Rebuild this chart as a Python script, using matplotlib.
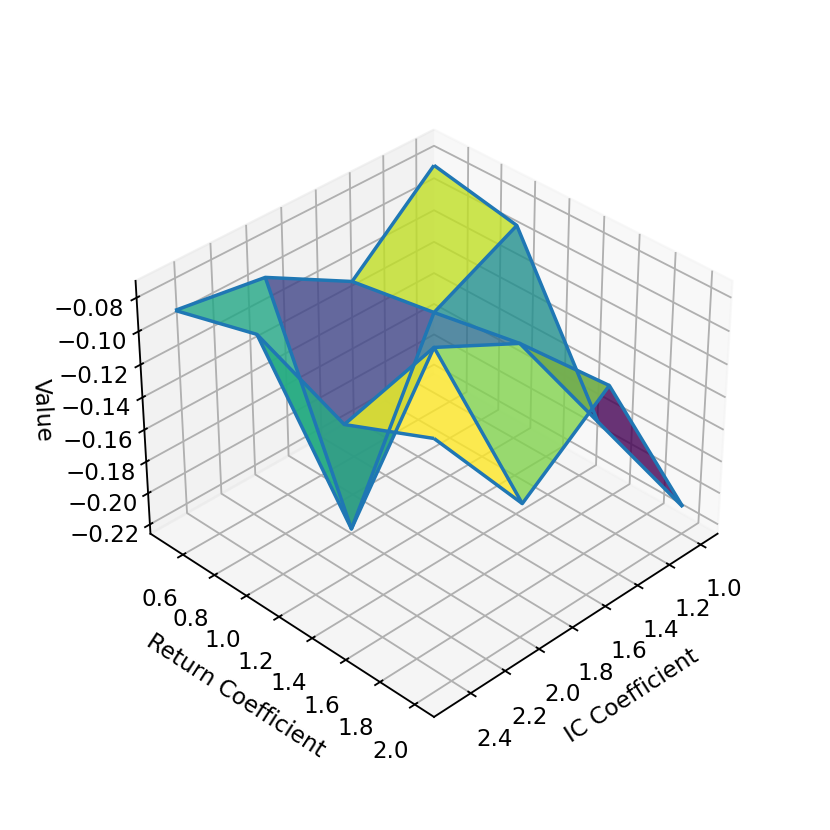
import numpy as np
import matplotlib
matplotlib.use("Agg")
import matplotlib.pyplot as plt

# grid of coefficients and the value read at each node
ic_coef = [1.0, 1.5, 2.0, 2.5]
ret_coef = [0.5, 1.0, 1.5, 2.0]
values = [
    [-0.0808, -0.1257, -0.0956, -0.0875],
    [-0.0913, -0.1169, -0.2229, -0.0732],
    [-0.1852, -0.1072, -0.0808, -0.0963],
    [-0.2087, -0.1032, -0.1432, -0.0740],
]
ic_ticks = [1.0, 1.2, 1.4, 1.6, 1.8, 2.0, 2.2, 2.4]
ret_ticks = [0.6, 0.8, 1.0, 1.2, 1.4, 1.6, 1.8, 2.0]

X, Y = np.meshgrid(ic_coef, ret_coef)
Z = np.array(values)

fig = plt.figure(figsize=(5, 5), dpi=166)
ax = fig.add_subplot(111, projection="3d")
ax.plot_surface(X, Y, Z, cmap="viridis", alpha=0.8)
ax.plot_wireframe(X, Y, Z)
ax.set_xticks(ic_ticks)
ax.set_yticks(ret_ticks)
ax.set_xlabel("IC Coefficient")
ax.set_ylabel("Return Coefficient")
ax.set_zlabel("Value")
ax.view_init(elev=35, azim=45)
fig.savefig("out.png")
